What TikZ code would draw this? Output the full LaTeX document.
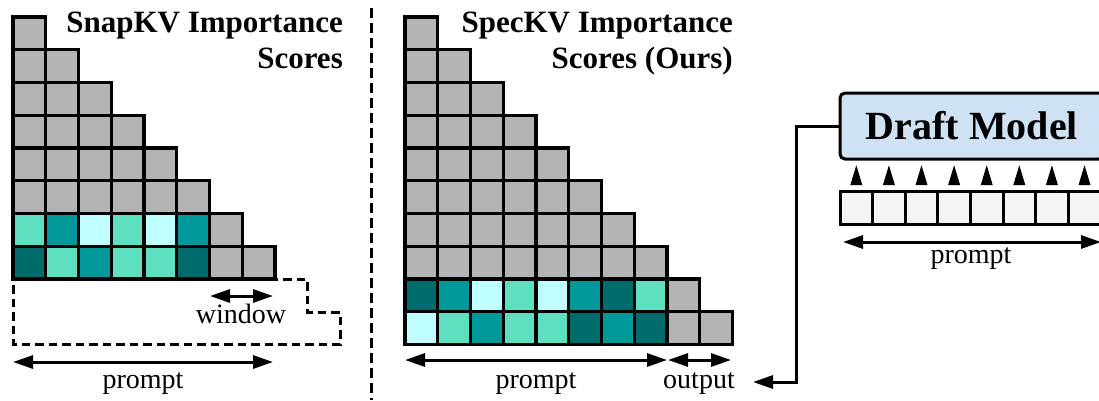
\documentclass[tikz,border=0pt]{standalone}
\usepackage{fontspec}
\setmainfont{Liberation Serif}
\usetikzlibrary{arrows.meta}
\definecolor{cg}{HTML}{B4B4B4}
\definecolor{ca}{HTML}{C0FFFF}
\definecolor{cb}{HTML}{5EE0C0}
\definecolor{cc}{HTML}{009999}
\definecolor{cd}{HTML}{006B6B}
\definecolor{draftfill}{HTML}{CFE2F3}
\definecolor{tokfill}{HTML}{F4F4F4}
\newcommand\gcell[4]{\draw[gridline, fill=#4] (#1+#2*32.75, 17+#3*32.75) rectangle ++(32.75,32.75);}
\begin{document}
\begin{tikzpicture}[x=1pt, y=-1pt,
  gridline/.style={line width=3.1pt, line join=miter},
  lbl/.style={font=\fontsize{28}{34}\selectfont, inner sep=0pt},
  ttl/.style={font=\bfseries\fontsize{31}{36}\selectfont, inner sep=0pt},
  dimarrow/.style={line width=3pt, {Triangle[length=20pt,width=13pt]}-{Triangle[length=20pt,width=13pt]}},
  fbarrow/.style={line width=3pt, -{Triangle[length=20pt,width=13pt]}},
  dashbox/.style={line width=3pt, dash pattern=on 8.5pt off 5pt},
  draftbox/.style={draw, line width=3pt, fill=draftfill, rounded corners=5pt, minimum width=264pt, minimum height=66pt, inner sep=0pt, font=\bfseries\fontsize{40}{46}\selectfont},
  tok/.style={draw, line width=3pt, fill=tokfill, minimum width=32.6pt, minimum height=32.6pt, inner sep=0pt},
  uptri/.style={fill=black, draw=black, line width=1pt, line join=miter}
]
\useasboundingbox (0,0) rectangle (1099,400);

% ---- left grid (SnapKV)
\foreach \r in {0,...,5}{\foreach \c in {0,...,\r}{\gcell{13}{\c}{\r}{cg}}}
\foreach \col [count=\i from 0] in {cb,cc,ca,cb,ca,cc,cg}{\gcell{13}{\i}{6}{\col}}
\foreach \col [count=\i from 0] in {cd,cb,cc,cb,cb,cd,cg,cg}{\gcell{13}{\i}{7}{\col}}

% dashed window region
\draw[dashbox] (13,279) -- (307,279) -- (307,312) -- (340,312) -- (340,344) -- (13,344) -- cycle;

\node[ttl, anchor=base east] (t1a) at (343,32) {SnapKV Importance};
\node[ttl, anchor=base east] (t1b) at (343,68) {Scores};

\coordinate (wl) at (210,296);
\coordinate (wr) at (273,296);
\draw[dimarrow] (wl) -- (wr);
\node[lbl, anchor=base] (wlbl) at (241,323) {window};

\coordinate (pl1) at (13,362);
\coordinate (pr1) at (273,362);
\draw[dimarrow] (pl1) -- (pr1);
\node[lbl, anchor=base] (plbl1) at (143,388) {prompt};

% divider
\coordinate (dvt) at (371,8);
\coordinate (dvb) at (371,400);
\draw[line width=3pt, dash pattern=on 10pt off 5pt] (dvt) -- (dvb);

% ---- middle grid (SpecKV)
\foreach \r in {0,...,7}{\foreach \c in {0,...,\r}{\gcell{405}{\c}{\r}{cg}}}
\foreach \col [count=\i from 0] in {cd,cc,ca,cb,ca,cc,cd,cb,cg}{\gcell{405}{\i}{8}{\col}}
\foreach \col [count=\i from 0] in {ca,cb,cc,cb,cb,cd,cc,cd,cg,cg}{\gcell{405}{\i}{9}{\col}}

\node[ttl, anchor=base east] (t2a) at (733,32) {SpecKV Importance};
\node[ttl, anchor=base east] (t2b) at (733,68) {Scores (Ours)};

\coordinate (pl2) at (405,360);
\coordinate (pr2) at (667,360);
\coordinate (ol) at (668,360);
\coordinate (or) at (731,360);
\draw[dimarrow] (pl2) -- (pr2);
\draw[dimarrow] (ol) -- (or);
\node[lbl, anchor=base] (plbl2) at (536,388) {prompt};
\node[lbl, anchor=base] (olbl) at (699,388) {output};

% ---- draft model
\node[draftbox] (draft) at (972,126) {Draft Model};
\foreach \i in {0,...,7}{
  \node[tok] (tok\i) at (856.3+\i*32.6,208) {};
  \filldraw[uptri] (851+\i*32.6,184.5) -- (861.6+\i*32.6,184.5) -- (856.3+\i*32.6,167) -- cycle;
}
\coordinate (pl3) at (843,242);
\coordinate (pr3) at (1101,242);
\draw[dimarrow] (pl3) -- (pr3);
\node[lbl, anchor=base] (plbl3) at (971,263) {prompt};

% feedback arrow
\coordinate (fbend) at (796,126);
\coordinate (fbtip) at (753,382);
\draw[fbarrow] (draft.west) -- (fbend) |- (fbtip);
\end{tikzpicture}
\end{document}
